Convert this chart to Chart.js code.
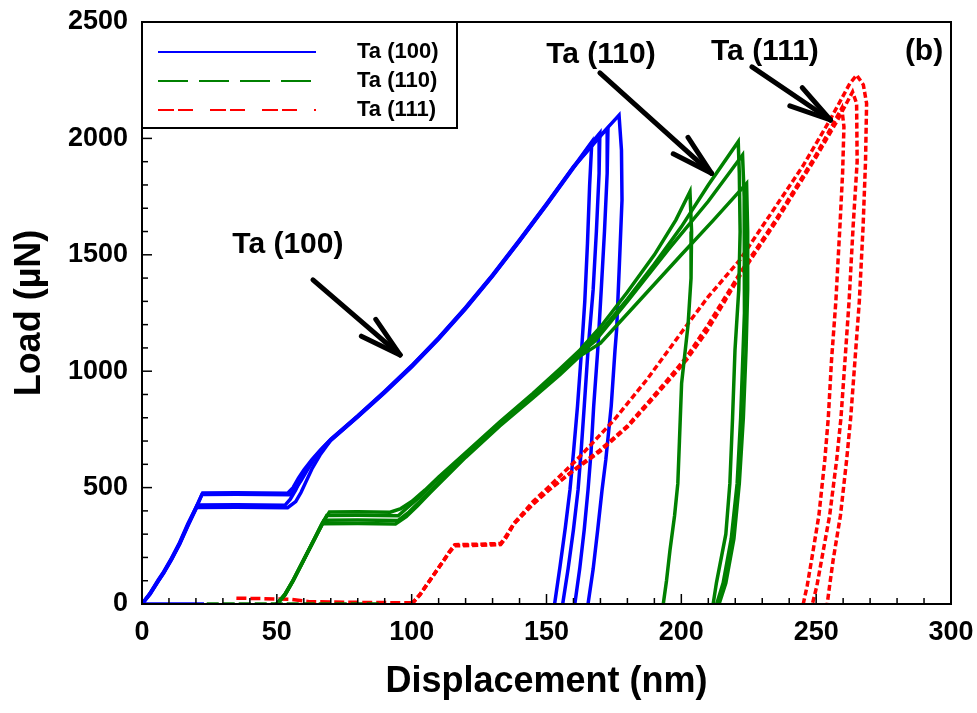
<!DOCTYPE html>
<html><head><meta charset="utf-8">
<script src="https://cdn.jsdelivr.net/npm/chart.js@4.4.0/dist/chart.umd.min.js"></script>
<style>html,body{margin:0;padding:0;background:#fff}</style>
</head><body>
<canvas id="c" width="977" height="713"></canvas>
<script>
// ---------- tick labels ----------
const xTicks = [0, 50, 100, 150, 200, 250, 300];
const yTicks = [0, 500, 1000, 1500, 2000, 2500];
const xMinorTicks = [10,20,30,40,60,70,80,90,110,120,130,140,160,170,180,190,210,220,230,240,260,270,280,290];
const yMinorTicks = [100,200,300,400,600,700,800,900,1100,1200,1300,1400,1600,1700,1800,1900,2100,2200,2300,2400];
const seriesNames = ['Ta (100)', 'Ta (110)', 'Ta (111)'];

// ---------- Ta (100) : [displacement nm, load uN] ----------
const ta100_base = [[0,0],[12,0],[23,0]];
const ta100_c1 = [[0,0],[3,45],[6,100],[8,135],[11,195],[14,262],[17,340],[20,415],[22.5,477],[35,478],[54,476],[56,500],[58,540],[60,575],[63,620],[66,660],[70,707],[80,807],[90,912],[100,1022],[110,1142],[120,1272],[130,1412],[140,1562],[150,1717],[160,1877],[166.8,1985],[166,1800],[165.2,1550],[164.2,1300],[163,1090],[161.5,850],[160,650],[158.7,490],[157,330],[155,160],[153,0]];
const ta100_c2 = [[0,0],[3,42],[6,97],[8,132],[11,192],[14,258],[17,335],[20,410],[22.2,470],[35,471],[55,469],[57,495],[59,530],[61,570],[64,625],[67,665],[70,703],[80,803],[90,908],[100,1018],[110,1138],[120,1268],[130,1408],[140,1558],[150,1713],[160,1873],[166,1970],[169.8,2023],[169.5,1850],[168.5,1600],[167.3,1350],[165.4,1090],[164,850],[162.8,650],[161.7,490],[160,320],[158,150],[156,0]];
const ta100_c3 = [[0,0],[3,47],[6,103],[8,138],[11,198],[14,265],[17,345],[20.5,425],[35,426],[53,424],[55,450],[57,490],[59,540],[61,580],[64,630],[67,670],[70,708],[80,808],[90,914],[100,1024],[110,1144],[120,1274],[130,1414],[140,1564],[150,1719],[160,1879],[170,2010],[172.8,2045],[172.5,1850],[171.5,1600],[170.3,1350],[169,1090],[167.5,850],[166.5,650],[165.4,490],[164,320],[162.3,150],[160.5,0]];
const ta100_c4 = [[0,0],[3,44],[6,99],[8,134],[11,194],[14,260],[17,338],[20.3,415],[35,416],[54,414],[57,440],[59,480],[61,530],[63,580],[66,640],[70,704],[80,805],[90,910],[100,1020],[110,1140],[120,1270],[130,1410],[140,1560],[150,1715],[160,1876],[170,2012],[176.9,2100],[177.8,1950],[178,1735],[177,1450],[176,1177],[175.4,1090],[174,850],[172,620],[170.6,490],[169,320],[167.3,150],[165.4,0]];

// ---------- Ta (110) ----------
const ta110_base = [[24,0],[40,0],[50,0],[70,0],[88,0]];
const ta110_c1 = [[50,0],[53,40],[56,100],[60,190],[64,280],[67,350],[69.5,395],[80,396],[92,394],[96,410],[100,440],[105,490],[110,545],[120,650],[132.7,783],[145,905],[155,1010],[162.4,1091],[170,1190],[180,1340],[190,1500],[198,1650],[203.2,1771],[203.8,1600],[203.6,1400],[202.5,1200],[200.1,948],[199.3,700],[198.7,518],[197.5,380],[195.8,232],[194.5,100],[193.3,0]];
const ta110_c2 = [[50,0],[53,38],[56,98],[60,188],[64,278],[67,348],[68.5,380],[80,381],[95,379],[99,420],[103,460],[108,520],[120,645],[132.7,778],[145,900],[155,1000],[162.4,1085],[170,1170],[180,1310],[190,1460],[200,1620],[210,1800],[221.1,1986],[221.5,1850],[221.8,1600],[221.3,1350],[219.9,1091],[219,800],[218,518],[216.5,300],[213,90],[211.8,0]];
const ta110_c3 = [[50,0],[53,42],[56,102],[60,192],[64,282],[66.5,340],[67.5,360],[80,361],[95,359],[99,395],[103,440],[108,500],[120,640],[132.7,775],[145,895],[155,995],[162.4,1075],[168,1130],[180,1300],[195,1520],[210,1730],[222.7,1929],[223.3,1750],[223.5,1500],[223.3,1250],[222.9,1091],[222,800],[220.7,518],[218.5,280],[215.5,90],[213.1,0]];
const ta110_c4 = [[50,0],[53,40],[56,100],[60,190],[64,280],[67,345],[80,346],[94,344],[98,375],[102,420],[107,480],[120,630],[132.7,765],[145,885],[155,985],[162.4,1065],[170,1120],[185,1310],[200,1500],[212,1650],[224.2,1807],[224.6,1600],[224.6,1350],[224,1091],[223,800],[221.5,518],[219.5,280],[216.5,90],[214,0]];

// ---------- Ta (111) ----------
const ta111_base = [[35,25],[45,23],[55,20],[62,10],[80,7],[100,5]];
const ta111_c1 = [[100,0],[103,40],[106,90],[109,140],[112,190],[114,225],[116,255],[125,257],[133,260],[135,292],[138,348],[142,400],[145,440],[151,505],[161.2,619],[175,790],[187.1,962],[200.7,1177],[210,1320],[221.7,1478],[236.6,1735],[245,1880],[255.1,2079],[262.5,2236],[265,2272],[267.5,2230],[268.7,2150],[268.3,1900],[267.4,1621],[266,1300],[264.4,1048],[262.8,800],[261.3,619],[259,380],[256.3,189],[255,80],[254.1,0]];
const ta111_c2 = [[100,0],[103,38],[106,88],[109,138],[112,188],[114,222],[116,250],[125,252],[133,255],[135,285],[138,345],[142,392],[145,428],[151,490],[160,575],[169.8,661],[180,765],[188.4,876],[195,965],[202,1062],[209.4,1190],[221.7,1420],[235,1650],[250,1930],[259.5,2130],[260.3,2050],[259.8,1850],[258.8,1621],[257.3,1300],[255.7,1048],[254.5,800],[253.2,619],[251,380],[248.3,189],[246.7,80],[245.2,0]];
const ta111_c3 = [[100,0],[103,39],[106,89],[109,139],[112,189],[114,223],[116,252],[125,254],[133,257],[135,288],[138,346],[142,394],[145,430],[151,492],[160,572],[169.8,655],[180,760],[188.4,868],[195,955],[202,1050],[209.4,1170],[221.7,1410],[235,1640],[250,1920],[258,2080],[263.5,2200],[265,2150],[265.2,1900],[263.7,1621],[262.2,1300],[260.7,1048],[259.2,800],[257.6,619],[255,380],[252,189],[250.3,80],[248.6,0]];

// ---------- annotations (data coordinates) ----------
const labelTexts = ['Ta (100)', 'Ta (110)', 'Ta (111)', '(b)'];
const labelPos = [[54.1,1542],[170.2,2358],[231,2371],[290,2371]];
const arrowFrom = [[63.4,1392],[169.8,2281],[226.2,2307]];
const arrowTo = [[95.7,1070],[211.2,1850],[255.3,2079]];

const BLUE = '#0000ff', GREEN = '#008000', RED = '#ff0000';
const FONT = "'Liberation Sans', Arial, sans-serif";
const styles = [
  {color: BLUE, dash: [], legendDash: []},
  {color: GREEN, dash: [], legendDash: [30, 11]},
  {color: RED, dash: [6, 3], legendDash: [16, 4, 15, 17]}
];

function ds(arr, s, dash) {
  return {
    data: arr.map(p => ({x: p[0], y: p[1]})),
    showLine: true, borderColor: styles[s].color, backgroundColor: styles[s].color,
    borderWidth: 3.5, pointRadius: 0, borderDash: dash || styles[s].dash, fill: false, tension: 0
  };
}

const datasets = [
  ds(ta110_base, 1, [12, 4]), ds(ta110_c1, 1), ds(ta110_c2, 1), ds(ta110_c3, 1), ds(ta110_c4, 1),
  ds(ta111_base, 2, [10, 4]), ds(ta111_c1, 2), ds(ta111_c2, 2), ds(ta111_c3, 2),
  ds(ta100_base, 0), ds(ta100_c1, 0), ds(ta100_c2, 0), ds(ta100_c3, 0), ds(ta100_c4, 0)
];

function line(ctx, x1, y1, x2, y2) { ctx.beginPath(); ctx.moveTo(x1, y1); ctx.lineTo(x2, y2); ctx.stroke(); }

const decor = {
  id: 'decor',
  afterDraw(chart) {
    const {ctx, chartArea: a, scales: {x, y}} = chart;
    ctx.save();
    ctx.strokeStyle = '#000'; ctx.lineCap = 'butt';
    ctx.lineWidth = 1.5;
    xMinorTicks.forEach(v => { const p = x.getPixelForValue(v); line(ctx, p, a.bottom, p, a.bottom - 6); });
    xTicks.forEach(v => { const p = x.getPixelForValue(v); line(ctx, p, a.bottom, p, a.bottom - 10); });
    yMinorTicks.forEach(v => { const p = y.getPixelForValue(v); line(ctx, a.left, p, a.left + 6, p); });
    yTicks.forEach(v => { const p = y.getPixelForValue(v); line(ctx, a.left, p, a.left + 10, p); });
    ctx.lineWidth = 2;
    ctx.strokeRect(a.left, a.top, a.right - a.left, a.bottom - a.top);

    // legend
    const lx = a.left, ly = a.top, lw = 315, lh = 106;
    ctx.fillStyle = '#fff'; ctx.fillRect(lx, ly, lw, lh);
    ctx.lineWidth = 2; ctx.strokeStyle = '#000'; ctx.strokeRect(lx, ly, lw, lh);
    const rows = [30, 59, 88];
    ctx.font = 'bold 22px ' + FONT; ctx.textBaseline = 'middle'; ctx.textAlign = 'left';
    seriesNames.forEach((n, i) => {
      ctx.strokeStyle = styles[i].color; ctx.lineWidth = 2; ctx.setLineDash(styles[i].legendDash);
      line(ctx, lx + 16, ly + rows[i], lx + 174, ly + rows[i]);
      ctx.setLineDash([]);
      ctx.fillStyle = '#000'; ctx.fillText(n, lx + 215, ly + rows[i]);
    });

    // annotations
    ctx.fillStyle = '#000'; ctx.font = 'bold 30px ' + FONT; ctx.textAlign = 'center';
    labelTexts.forEach((t, i) => {
      ctx.fillText(t, x.getPixelForValue(labelPos[i][0]), y.getPixelForValue(labelPos[i][1]));
    });
    ctx.strokeStyle = '#000'; ctx.lineWidth = 5; ctx.lineCap = 'round';
    arrowFrom.forEach((f, i) => {
      const x1 = x.getPixelForValue(f[0]), y1 = y.getPixelForValue(f[1]);
      const x2 = x.getPixelForValue(arrowTo[i][0]), y2 = y.getPixelForValue(arrowTo[i][1]);
      line(ctx, x1, y1, x2, y2);
      const ang = Math.atan2(y1 - y2, x1 - x2);
      [-0.26, 0.26].forEach(d => {
        line(ctx, x2, y2, x2 + 43 * Math.cos(ang + d), y2 + 43 * Math.sin(ang + d));
      });
    });
    ctx.restore();
  }
};

new Chart(document.getElementById('c'), {
  type: 'scatter',
  data: {datasets},
  options: {
    responsive: false, animation: false, devicePixelRatio: 1,
    layout: {padding: {top: 22, right: 26, left: 0, bottom: 0}},
    plugins: {legend: {display: false}, tooltip: {enabled: false}},
    scales: {
      x: {
        type: 'linear', min: 0, max: 300,
        afterBuildTicks: s => { s.ticks = xTicks.map(v => ({value: v})); },
        afterFit: s => { s.height = 109; s.paddingLeft = 0; s.paddingRight = 0; },
        grid: {display: false, drawTicks: false},
        border: {display: true, color: '#000', width: 2},
        ticks: {color: '#000', padding: 12, font: {family: FONT, size: 27, weight: 'bold'}, maxRotation: 0, callback: v => String(v)},
        title: {display: true, text: 'Displacement (nm)', color: '#000', font: {family: FONT, size: 36, weight: 'bold'}, padding: {top: 0, bottom: 9}}
      },
      y: {
        type: 'linear', min: 0, max: 2500,
        afterBuildTicks: s => { s.ticks = yTicks.map(v => ({value: v})); },
        afterFit: s => { s.width = 142; s.paddingTop = 0; s.paddingBottom = 0; },
        grid: {display: false, drawTicks: false},
        border: {display: true, color: '#000', width: 2},
        ticks: {color: '#000', padding: 14, font: {family: FONT, size: 27, weight: 'bold'}, callback: v => String(v)},
        title: {display: true, text: 'Load (\u00b5N)', color: '#000', font: {family: FONT, size: 36, weight: 'bold'}, padding: {top: 8, bottom: 0}}
      }
    }
  },
  plugins: [decor]
});
</script>
</body></html>
